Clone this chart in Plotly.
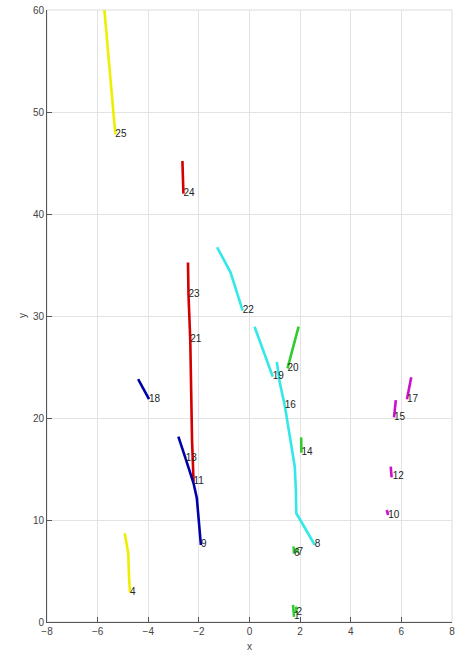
import plotly.graph_objects as go

# Track ids (label drawn at each track's last point)
track_ids = ["25", "24", "23", "21", "11", "18", "13", "9", "4",
             "22", "19", "16", "8", "20", "14", "6", "7", "1", "2",
             "17", "15", "12", "10"]
track_colors = ["yellow", "red", "red", "red", "red", "blue", "blue", "blue", "yellow",
                "cyan", "cyan", "cyan", "cyan", "green", "green", "green", "green", "green", "green",
                "magenta", "magenta", "magenta", "magenta"]
track_x = [
    [-5.75, -5.30],
    [-2.65, -2.61],
    [-2.43, -2.41],
    [-2.41, -2.37, -2.34],
    [-2.34, -2.27, -2.21],
    [-4.40, -3.97],
    [-2.81, -2.52],
    [-2.52, -2.21, -2.08, -2.00, -1.94, -1.92],
    [-4.93, -4.79, -4.76, -4.72],
    [-1.28, -0.75, -0.27],
    [0.20, 0.92],
    [1.08, 1.20, 1.39],
    [1.39, 1.79, 1.83, 1.85, 2.58],
    [1.94, 1.50],
    [2.04, 2.05],
    [1.74, 1.76],
    [1.88, 1.90],
    [1.72, 1.76],
    [1.84, 1.86],
    [6.39, 6.22],
    [5.78, 5.71],
    [5.58, 5.61, 5.66],
    [5.42, 5.48],
]
track_y = [
    [60.5, 47.8],
    [45.2, 42.0],
    [35.25, 32.06],
    [32.06, 29.8, 27.65],
    [27.65, 17.84, 13.75],
    [23.8, 21.86],
    [18.17, 16.0],
    [16.0, 13.6, 12.13, 10.0, 7.72, 7.55],
    [8.70, 6.74, 4.44, 2.87],
    [36.74, 34.28, 30.52],
    [28.95, 24.05],
    [25.5, 23.4, 21.27],
    [21.27, 15.2, 12.94, 10.66, 7.55],
    [28.95, 24.87],
    [18.1, 16.6],
    [7.4, 6.7],
    [7.3, 6.8],
    [1.67, 0.5],
    [1.5, 0.9],
    [23.99, 21.83],
    [21.76, 20.07],
    [15.23, 14.3, 14.25],
    [10.98, 10.49],
]

x_ticks = [-8, -6, -4, -2, 0, 2, 4, 6, 8]
y_ticks = [0, 10, 20, 30, 40, 50, 60]

color_map = {
    "yellow": "#eeee00",
    "red": "#d40000",
    "blue": "#0000a8",
    "cyan": "#33e8e8",
    "green": "#2ecc2e",
    "magenta": "#cc11cc",
}
FONT = "Liberation Sans, Arial, sans-serif"

fig = go.Figure()
for tid, col, xs, ys in zip(track_ids, track_colors, track_x, track_y):
    fig.add_trace(go.Scatter(
        x=xs, y=ys, mode="lines",
        line=dict(color=color_map[col], width=2.6),
        hoverinfo="skip", showlegend=False,
    ))
for tid, xs, ys in zip(track_ids, track_x, track_y):
    fig.add_trace(go.Scatter(
        x=[xs[-1]], y=[ys[-1]], mode="text", text=[tid],
        textposition="middle right",
        textfont=dict(family=FONT, size=10, color="#222"),
        hoverinfo="skip", showlegend=False,
    ))

axis_common = dict(
    showgrid=True, gridcolor="#e3e3e3", gridwidth=1,
    zeroline=False, showline=True, linecolor="#555", linewidth=1,
    ticks="inside", ticklen=5, tickcolor="#555", automargin=False,
    tickfont=dict(family=FONT, size=10, color="#444"),
)
fig.update_xaxes(range=[-8, 8], tickvals=x_ticks, **axis_common)
fig.update_yaxes(range=[0, 60], tickvals=y_ticks, **axis_common)

fig.add_shape(type="rect", xref="paper", yref="paper", x0=0, y0=0, x1=1, y1=1,
              line=dict(color="#dcdcdc", width=1), layer="below")

fig.add_annotation(text="x", xref="paper", yref="paper", x=0.5, y=0,
                   yshift=-24, showarrow=False, xanchor="center", yanchor="middle",
                   font=dict(family=FONT, size=10, color="#444"))
fig.add_annotation(text="y", xref="paper", yref="paper", x=0, y=0.5,
                   xshift=-25, showarrow=False, xanchor="center", yanchor="middle",
                   textangle=-90, font=dict(family=FONT, size=10, color="#444"))

fig.update_layout(
    width=460, height=652,
    margin=dict(l=47, r=8, t=10, b=30),
    plot_bgcolor="white", paper_bgcolor="white",
)

fig.write_html(
    "out.html",
    config={"displayModeBar": False},
    post_script="document.body.style.margin='0';document.body.style.overflow='hidden';",
)
